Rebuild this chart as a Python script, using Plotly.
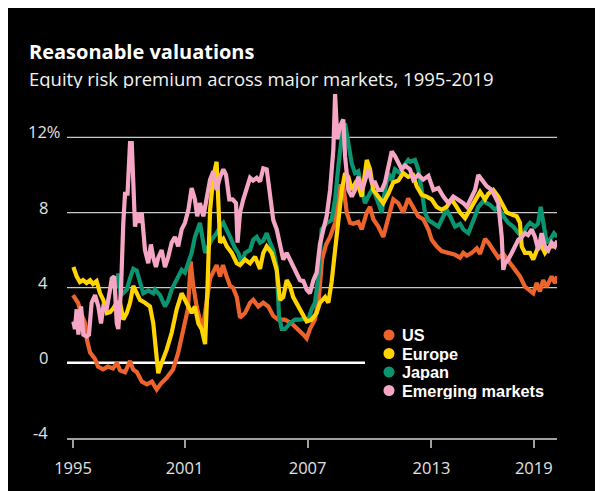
import plotly.graph_objects as go

# ---------------- data (decimal years, equity risk premium %) ----------------
us_x = [1995.00,1995.26,1995.47,1995.63,1995.73,1995.89,1996.15,1996.30,1996.56,1996.82,1997.08,1997.29,1997.45,1997.71,1997.97,
        1998.13,1998.33,1998.59,1998.85,1999.11,1999.36,1999.58,1999.88,2000.21,2000.47,2000.73,2000.99,2001.13,2001.25,2001.44,
        2001.61,2001.77,2001.96,2002.14,2002.29,2002.48,2002.66,2002.81,2003.00,2003.18,2003.33,2003.53,2003.70,2003.96,2004.22,
        2004.39,2004.65,2004.91,2005.17,2005.43,2005.69,2006.04,2006.39,2006.73,2007.00,2007.17,2007.34,2007.60,2007.81,2007.97,
        2008.18,2008.39,2008.65,2008.91,2009.08,2009.26,2009.43,2009.60,2009.86,2010.04,2010.30,2010.47,2010.64,2010.90,2011.16,
        2011.42,2011.68,2011.94,2012.20,2012.46,2012.72,2012.98,2013.24,2013.51,2013.68,2013.94,2014.20,2014.55,2014.90,2015.16,
        2015.33,2015.51,2015.77,2016.03,2016.20,2016.46,2016.63,2016.89,2017.15,2017.41,2017.76,2018.02,2018.28,2018.54,2018.80,
        2018.97,2019.15,2019.32,2019.49,2019.67,2019.93,2020.10,2020.22]
us_y = [3.6,3.2,2.5,2.1,1.2,0.55,0.2,-0.2,-0.35,-0.2,-0.3,0.0,-0.4,-0.5,0.1,
        -0.35,-0.5,-1.0,-1.15,-1.0,-1.42,-1.1,-0.8,-0.35,0.5,1.6,2.9,5.4,4.2,3.0,
        2.3,1.9,3.4,4.5,4.8,5.2,4.6,5.2,4.6,4.1,4.0,3.5,2.4,2.65,3.2,
        3.35,3.0,3.2,3.0,2.5,2.3,2.3,2.1,1.8,1.5,1.3,1.8,2.3,3.5,5.5,
        6.3,6.7,7.45,9.4,9.4,8.0,7.45,7.4,7.5,7.1,8.0,8.3,7.65,7.25,6.7,
        7.7,8.7,8.5,8.0,8.75,8.3,7.8,7.65,7.1,6.55,6.2,5.95,5.85,5.75,5.6,
        5.85,5.7,5.85,6.1,5.8,6.6,6.4,6.0,5.6,5.8,5.3,4.95,4.6,4.05,3.8,
        3.7,4.25,3.8,4.4,4.05,4.6,4.25,4.6]

eu_x = [1995.02,1995.19,1995.36,1995.52,1995.71,1995.89,1996.04,1996.23,1996.41,1996.58,1996.76,1996.93,1997.10,1997.28,1997.45,
        1997.62,1997.80,1997.97,1998.14,1998.32,1998.49,1998.75,1999.01,1999.18,1999.36,1999.44,1999.62,1999.88,2000.14,2000.40,
        2000.66,2000.92,2001.18,2001.35,2001.53,2001.70,2001.88,2002.00,2002.14,2002.31,2002.48,2002.66,2002.83,2003.01,2003.27,
        2003.53,2003.70,2003.96,2004.22,2004.48,2004.74,2004.91,2005.09,2005.35,2005.61,2005.78,2005.95,2006.13,2006.30,2006.47,
        2006.73,2006.91,2007.17,2007.43,2007.69,2007.86,2008.13,2008.30,2008.47,2008.65,2008.82,2009.00,2009.17,2009.34,2009.52,
        2009.78,2010.04,2010.30,2010.47,2010.64,2010.90,2011.16,2011.42,2011.68,2011.94,2012.20,2012.46,2012.71,2012.90,2013.16,
        2013.42,2013.68,2013.94,2014.20,2014.46,2014.72,2014.98,2015.16,2015.42,2015.68,2015.94,2016.20,2016.46,2016.63,2016.89,
        2017.15,2017.33,2017.59,2017.85,2018.11,2018.28,2018.37,2018.54,2018.80,2018.97,2019.15,2019.32,2019.58,2019.84,2020.05,
        2020.21]
eu_y = [5.1,4.6,4.3,4.4,4.25,4.4,4.2,4.35,3.7,3.35,2.65,2.7,2.9,3.2,3.2,
        2.3,2.65,3.2,4.1,3.7,3.35,3.2,3.0,2.1,0.35,-0.55,0.0,0.7,1.6,2.85,
        3.7,3.2,2.65,3.0,2.1,1.8,1.0,3.9,8.15,9.9,10.7,6.4,6.6,6.2,5.85,
        5.3,5.2,5.5,5.3,5.65,5.0,5.85,6.2,5.85,4.95,3.35,3.5,4.4,4.1,3.5,
        3.0,2.65,2.2,2.3,2.65,3.2,3.5,3.2,4.3,6.0,7.45,9.2,10.1,9.9,9.2,
        9.7,8.85,10.8,10.3,9.2,8.85,8.5,9.0,9.6,9.7,10.1,9.9,10.0,9.4,8.95,
        8.85,8.7,8.3,8.15,8.3,8.7,8.3,8.0,7.7,8.15,8.7,9.1,8.7,9.0,9.2,
        8.85,8.5,8.0,7.9,7.8,7.45,6.2,5.85,5.85,5.5,6.0,6.4,5.85,6.2,6.2,
        6.4]

jp_x = [1997.28,1997.36,1997.50,1997.62,1997.80,1997.97,1998.14,1998.32,1998.49,1998.66,1998.92,1999.18,1999.27,1999.53,1999.79,
        1999.95,2000.14,2000.40,2000.66,2000.83,2001.01,2001.18,2001.35,2001.53,2001.61,2001.76,2001.88,2002.05,2002.22,2002.48,
        2002.66,2002.83,2003.01,2003.18,2003.44,2003.61,2003.79,2003.96,2004.22,2004.39,2004.57,2004.74,2004.91,2005.09,2005.26,
        2005.43,2005.61,2005.73,2005.87,2006.04,2006.30,2006.56,2006.82,2007.08,2007.26,2007.43,2007.60,2007.78,2007.95,2008.21,
        2008.47,2008.65,2008.82,2009.00,2009.17,2009.34,2009.52,2009.69,2009.86,2010.04,2010.21,2010.38,2010.56,2010.73,2010.90,
        2011.08,2011.25,2011.42,2011.60,2011.77,2012.03,2012.20,2012.46,2012.55,2012.81,2012.98,2013.16,2013.33,2013.51,2013.77,
        2014.03,2014.29,2014.46,2014.64,2014.90,2015.16,2015.33,2015.59,2015.77,2015.94,2016.11,2016.37,2016.55,2016.72,2016.98,
        2017.15,2017.41,2017.67,2017.93,2018.19,2018.37,2018.63,2018.80,2019.06,2019.22,2019.36,2019.49,2019.67,2019.84,2020.05,
        2020.22]
jp_y = [4.0,4.75,3.6,3.7,3.9,4.5,5.0,4.9,4.2,3.7,3.85,3.7,3.9,3.6,3.0,
        3.3,3.9,4.45,4.95,4.8,5.3,5.85,6.7,7.25,7.45,6.55,5.85,6.2,6.55,6.9,
        7.25,7.45,7.1,6.7,6.1,5.85,5.3,5.85,6.0,6.55,6.7,6.4,6.5,6.9,6.4,
        6.0,5.1,2.5,1.8,1.8,2.1,2.3,2.3,2.35,2.3,2.85,3.2,4.6,7.1,7.45,
        7.6,8.7,10.45,12.05,12.75,11.7,10.6,10.1,10.2,9.2,8.5,8.85,9.2,9.0,8.5,
        8.0,9.2,10.1,9.7,10.3,10.1,10.45,10.8,10.7,10.8,10.3,9.2,8.0,7.6,7.45,
        7.25,7.8,8.15,7.8,7.25,7.4,7.1,6.9,7.45,7.8,8.3,8.6,8.5,8.4,8.15,
        8.3,7.8,7.45,7.25,6.9,6.7,7.25,7.45,7.25,7.4,8.3,7.45,6.4,6.55,6.9,
        6.7]

em_x = [1995.02,1995.10,1995.19,1995.28,1995.42,1995.54,1995.71,1995.83,1995.97,1996.15,1996.32,1996.46,1996.58,1996.76,1996.93,
        1997.02,1997.15,1997.28,1997.36,1997.50,1997.62,1997.71,1997.84,1997.97,1998.06,1998.14,1998.23,1998.37,1998.49,1998.58,
        1998.75,1998.92,1999.06,1999.18,1999.32,1999.44,1999.62,1999.79,1999.95,2000.14,2000.31,2000.48,2000.66,2000.83,2001.01,
        2001.18,2001.35,2001.47,2001.61,2001.79,2001.96,2002.14,2002.31,2002.48,2002.66,2002.83,2002.97,2003.14,2003.31,2003.49,
        2003.57,2003.70,2003.87,2004.05,2004.22,2004.38,2004.57,2004.74,2004.91,2005.09,2005.26,2005.43,2005.61,2005.78,2005.95,
        2006.13,2006.30,2006.47,2006.65,2006.82,2007.00,2007.17,2007.34,2007.52,2007.69,2007.86,2008.04,2008.21,2008.39,2008.56,
        2008.65,2008.77,2008.91,2009.08,2009.17,2009.34,2009.52,2009.69,2009.86,2010.04,2010.21,2010.38,2010.56,2010.73,2010.90,
        2011.08,2011.25,2011.42,2011.60,2011.77,2011.94,2012.12,2012.29,2012.55,2012.72,2012.98,2013.24,2013.51,2013.77,2014.03,
        2014.29,2014.55,2014.81,2015.07,2015.33,2015.51,2015.68,2015.94,2016.11,2016.29,2016.55,2016.81,2016.98,2017.15,2017.33,
        2017.41,2017.50,2017.67,2017.85,2018.02,2018.19,2018.37,2018.54,2018.70,2018.89,2019.06,2019.23,2019.41,2019.58,2019.76,
        2019.93,2020.10,2020.22]
em_y = [2.2,1.8,2.85,1.5,3.0,1.5,1.4,1.5,3.2,3.6,3.0,2.1,3.0,2.9,3.9,
        4.5,4.6,2.1,1.8,3.9,7.45,9.0,9.0,11.7,11.7,8.85,7.25,8.0,7.45,8.0,
        6.0,5.3,6.3,5.6,5.1,5.6,6.0,5.1,5.6,6.4,6.7,6.2,7.1,7.45,8.15,
        9.3,8.7,7.8,8.5,7.8,8.7,9.75,10.2,9.2,9.9,10.3,10.0,8.7,8.7,8.5,
        6.4,8.0,8.7,9.4,9.85,9.7,9.85,9.65,10.35,10.3,8.7,7.6,7.1,6.2,5.5,
        5.85,5.5,5.1,4.7,4.4,4.35,3.9,3.7,4.4,4.8,6.3,7.1,7.8,9.2,11.35,
        14.3,11.9,12.6,12.95,11.0,9.2,8.85,9.2,9.9,9.2,9.7,10.3,9.6,9.6,9.2,
        9.2,9.6,10.3,11.25,11.0,10.7,10.3,10.5,10.3,9.75,10.0,9.75,9.95,9.2,9.3,
        8.85,8.5,8.85,8.7,8.5,8.3,8.7,9.2,10.0,9.75,9.4,9.2,8.85,8.5,6.7,
        4.95,5.3,5.5,5.85,6.2,6.55,6.7,6.9,6.8,7.1,6.7,6.0,6.9,6.2,6.0,
        6.4,6.2,6.5]

series_names = ["US", "Europe", "Japan", "Emerging markets"]
series_colors = ["#EC642C", "#FFD400", "#0B9470", "#F5A6C4"]

tick_years = [1995.0, 2000.81, 2007.22, 2013.67, 2019.0]
tick_labels = ["1995", "2001", "2007", "2013", "2019"]
y_ticks = [-4, 0, 4, 8, 12]
y_tick_labels = ["-4", "0", "4", "8", "12%"]

title = "Reasonable valuations"
subtitle = "Equity risk premium across major markets, 1995-2019"

# ---------------- layout geometry (page has an 8px body margin) ----------------
OFF = 8
W, H = 603 - OFF, 491 - OFF
ML, MR, MT, MB = 67 - OFF, 46, 81 - OFF, 53
PW, PH = W - ML - MR, H - MT - MB
XR = [1994.6875, 2020.2083]
YR = [-4, 15]

def fx(px):  # screen px -> paper x
    return (px - OFF - ML) / PW

def fy(py):  # screen px -> paper y
    return (H - MB - (py - OFF)) / PH

FONT = "Open Sans"
LEG_FONT = "Liberation Sans"
TXT = "#e2e2e2"

fig = go.Figure()
data = {"US": (us_x, us_y), "Europe": (eu_x, eu_y), "Japan": (jp_x, jp_y),
        "Emerging markets": (em_x, em_y)}
draw_order = ["US", "Japan", "Europe", "Emerging markets"]
for name in draw_order:
    xs, ys = data[name]
    col = series_colors[series_names.index(name)]
    fig.add_trace(go.Scatter(x=xs, y=ys, mode="lines", name=name,
                             line=dict(color=col, width=4.2), showlegend=False,
                             hoverinfo="skip"))

shapes = []
for yv in [4, 8, 12]:
    shapes.append(dict(type="line", xref="paper", yref="y", x0=0, x1=1, y0=yv, y1=yv,
                       line=dict(color="#c9c9c9", width=1.2), layer="below"))
shapes.append(dict(type="line", xref="paper", yref="y", x0=0, x1=fx(365), y0=0, y1=0,
                   line=dict(color="#ffffff", width=2.5), layer="below"))

annotations = []
# y tick labels
for v, lab in zip(y_ticks, y_tick_labels):
    if lab.endswith("%"):
        annotations.append(dict(xref="paper", yref="y", x=fx(26), y=v, text=lab,
                                xanchor="left", yanchor="bottom", showarrow=False,
                                yshift=-5, height=17,
                                font=dict(family=FONT, size=16.5, color=TXT)))
    else:
        annotations.append(dict(xref="paper", yref="y", x=fx(50), y=v, text=lab,
                                xanchor="right", yanchor="bottom", showarrow=False,
                                yshift=-5, height=17,
                                font=dict(family=FONT, size=16.5, color=TXT)))

# title / subtitle
annotations.append(dict(xref="paper", yref="paper", x=fx(27), y=fy(50.5), text="<b>" + title + "</b>",
                        xanchor="left", yanchor="middle", showarrow=False, height=20,
                        font=dict(family=FONT, size=20, color="#ffffff")))
annotations.append(dict(xref="paper", yref="paper", x=fx(27), y=fy(77.5), text=subtitle,
                        xanchor="left", yanchor="middle", showarrow=False, height=20,
                        font=dict(family=FONT, size=18.5, color="#f2f2f2")))

# legend: circles as shapes, labels as annotations
leg_rows = [335, 353.5, 372, 390.5]
for name, col, row in zip(series_names, series_colors, leg_rows):
    shapes.append(dict(type="circle", xref="paper", yref="paper",
                       x0=fx(383.5), x1=fx(394.5), y0=fy(row + 5.5), y1=fy(row - 5.5),
                       fillcolor=col, line=dict(width=0)))
    annotations.append(dict(xref="paper", yref="paper", x=fx(400), y=fy(row), text="<b>" + name + "</b>",
                            xanchor="left", yanchor="middle", showarrow=False, height=16,
                            font=dict(family=LEG_FONT, size=16.3, color="#ffffff")))

fig.update_layout(
    width=W, height=H,
    margin=dict(l=ML, r=MR, t=MT, b=MB),
    paper_bgcolor="#000000", plot_bgcolor="#000000",
    shapes=shapes, annotations=annotations,
    showlegend=False,
    xaxis=dict(range=XR, tickmode="array", tickvals=tick_years, ticktext=tick_labels,
               showgrid=False, zeroline=False, showline=True, linecolor="#a0a0a0", linewidth=2,
               ticks="outside", ticklen=8, tickwidth=2, tickcolor="#a0a0a0",
               ticklabelstandoff=6,
               tickfont=dict(family=FONT, size=16.5, color=TXT)),
    yaxis=dict(range=YR, tickvals=y_ticks, showticklabels=False, showgrid=False,
               zeroline=False, showline=False),
)

fig.write_html("out.html")
